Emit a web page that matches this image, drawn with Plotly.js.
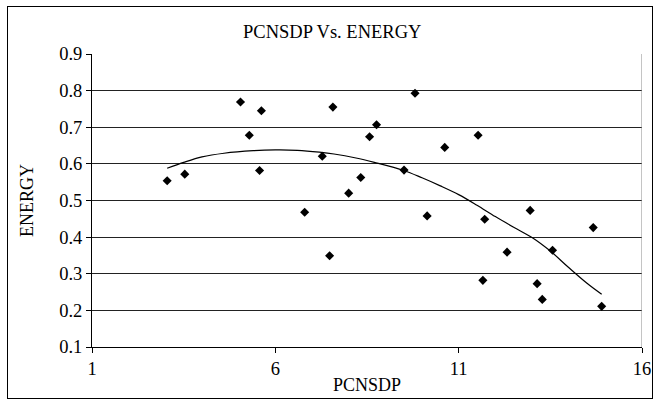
<!DOCTYPE html>
<html>
<head>
<meta charset="utf-8">
<script src="https://cdn.plot.ly/plotly-3.0.1.min.js"></script>
<style>
  html, body { margin: 0; padding: 0; background: #fff; }
  #wrap { position: relative; width: 654px; height: 400px; }
  #chart { width: 654px; height: 400px; }
  #frame { position: absolute; left: 7px; top: 6px; width: 644px; height: 391px; border: 1px solid #000; pointer-events: none; }
</style>
</head>
<body>
<div id="wrap">
  <div id="chart"></div>
  <div id="frame"></div>
</div>
<script>
// Scatter data: PCNSDP vs ENERGY
const pcnsdp = [3.05, 3.53, 5.05, 5.29, 5.62, 5.57, 6.80, 7.28, 7.57, 7.48, 8.00, 8.33, 8.57, 8.76,
                9.51, 9.81, 10.14, 10.62, 11.53, 11.71, 11.66, 12.32, 12.95, 13.14, 13.28, 13.56, 14.67, 14.90];
const energy = [0.554, 0.572, 0.769, 0.678, 0.745, 0.582, 0.468, 0.621, 0.755, 0.349, 0.520, 0.563, 0.674, 0.707,
                0.583, 0.793, 0.458, 0.645, 0.678, 0.449, 0.282, 0.359, 0.473, 0.273, 0.230, 0.364, 0.426, 0.211];

// Trendline
const trendX = [3.05, 3.5, 4.0, 4.6, 5.4, 6.0, 6.6, 7.2, 7.6, 8.2, 8.7, 9.5, 10.0, 10.5, 11.0,
                11.5, 12.0, 12.5, 13.0, 13.5, 14.0, 14.5, 14.9];
const trendY = [0.588, 0.604, 0.619, 0.629, 0.636, 0.638, 0.637, 0.632, 0.627, 0.616, 0.604, 0.582, 0.562, 0.540, 0.516,
                0.487, 0.456, 0.427, 0.399, 0.362, 0.317, 0.274, 0.244];

const xTicks = [1, 6, 11, 16];
const yTicks = [0.1, 0.2, 0.3, 0.4, 0.5, 0.6, 0.7, 0.8, 0.9];

const serif = 'Liberation Serif';

const traces = [
  {
    x: pcnsdp, y: energy, type: 'scatter', mode: 'markers',
    marker: { symbol: 'diamond', size: 7, color: '#000' },
    showlegend: false, hoverinfo: 'x+y'
  },
  {
    x: trendX, y: trendY, type: 'scatter', mode: 'lines',
    line: { color: '#000', width: 1.2, shape: 'spline' },
    showlegend: false, hoverinfo: 'skip'
  }
];

const layout = {
  width: 654, height: 400,
  margin: { l: 92, r: 12, t: 54, b: 53 },
  paper_bgcolor: '#fff', plot_bgcolor: '#fff',
  font: { family: serif, color: '#000', size: 18 },
  title: { text: 'PCNSDP Vs. ENERGY', font: { family: serif, size: 18.5, color: '#000' },
           x: 0.508, xanchor: 'center', y: 0.92, yanchor: 'middle' },
  xaxis: {
    range: [1, 16], tickvals: xTicks, ticktext: xTicks.map(String),
    showgrid: false, zeroline: false,
    showline: true, linecolor: '#000', linewidth: 1, mirror: false,
    ticks: 'outside', ticklen: 5, tickcolor: '#000',
    tickfont: { family: serif, size: 18.5, color: '#000' },
    title: { text: 'PCNSDP', font: { family: serif, size: 18, color: '#000' }, standoff: 0 }
  },
  yaxis: {
    range: [0.1, 0.9], tickvals: yTicks, ticktext: yTicks.map(v => v.toFixed(1)),
    showgrid: true, gridcolor: '#222', gridwidth: 1, zeroline: false,
    showline: true, linecolor: '#000', linewidth: 1,
    ticks: 'outside', ticklen: 5, tickcolor: '#000',
    tickfont: { family: serif, size: 18.5, color: '#000' },
    title: { text: 'ENERGY', font: { family: serif, size: 18, color: '#000' }, standoff: 20 }
  },
  shapes: [
    { type: 'line', xref: 'x', yref: 'y', x0: 16, x1: 16, y0: 0.1, y1: 0.9, line: { color: '#888', width: 1 } }
  ]
};

Plotly.newPlot('chart', traces, layout, { staticPlot: true, displayModeBar: false });
</script>
</body>
</html>
